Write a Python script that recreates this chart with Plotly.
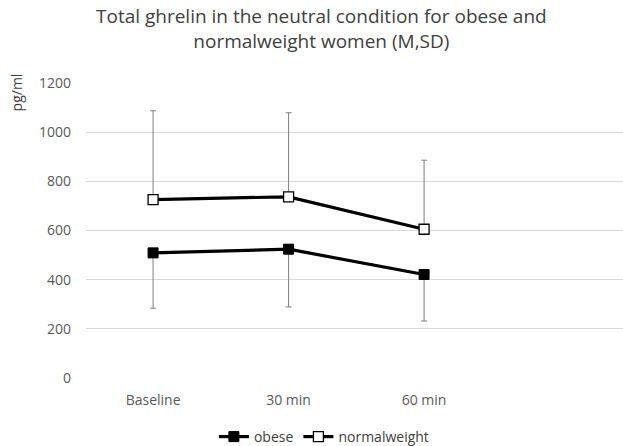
import plotly.graph_objects as go

categories = ["Baseline", "30 min", "60 min"]
obese_mean = [509, 524, 421]
obese_sd = [225, 235, 189]
normal_mean = [726, 737, 605]
normal_sd = [361, 342, 281]
y_ticks = [0, 200, 400, 600, 800, 1000, 1200]
title_text = "Total ghrelin in the neutral condition for obese and<br>normalweight women (M,SD)"

xpos = list(range(len(categories)))
font = "Open Sans"

fig = go.Figure()
fig.add_trace(go.Scatter(
    x=xpos, y=obese_mean, name="obese", mode="lines+markers",
    line=dict(color="black", width=3.2),
    marker=dict(symbol="square", size=10, color="black", line=dict(color="black", width=1)),
    error_y=dict(type="data", array=[0]*3, arrayminus=obese_sd, symmetric=False,
                 color="#7f7f7f", thickness=1, width=3),
))
fig.add_trace(go.Scatter(
    x=xpos, y=normal_mean, name="normalweight", mode="lines+markers",
    line=dict(color="black", width=3.2),
    marker=dict(symbol="square", size=10, color="white", line=dict(color="black", width=1.3)),
    error_y=dict(type="data", array=normal_sd, arrayminus=[0]*3, symmetric=False,
                 color="#7f7f7f", thickness=1, width=3),
))

fig.update_layout(
    width=623, height=446,
    margin=dict(l=86, r=0, t=83, b=68, autoexpand=False),
    paper_bgcolor="white", plot_bgcolor="white",
    font=dict(family=font, size=14, color="#595959"),
    showlegend=True,
    legend=dict(orientation="h", x=0.443, xanchor="center", y=-0.2, yanchor="middle",
                font=dict(family=font, size=14, color="#404040"),
                itemwidth=30, traceorder="normal"),
    xaxis=dict(range=[-0.495, 3.468], tickvals=xpos, ticktext=categories,
               showgrid=False, zeroline=False, showline=False, ticks="",
               ticklabelstandoff=12),
    yaxis=dict(range=[0, 1200], tickvals=y_ticks, showgrid=True, gridcolor="#d9d9d9",
               gridwidth=1, zeroline=False, showline=False, ticks="",
               ticklabelstandoff=14),
)
fig.add_annotation(text=title_text, xref="paper", yref="paper",
                   x=0.438, y=1.185, xanchor="center", yanchor="middle", showarrow=False,
                   font=dict(family=font, size=19, color="#404040"))
fig.add_annotation(text="pg/ml", textangle=-90, xref="paper", yref="paper",
                   x=-0.13, y=1.04, xanchor="center", yanchor="top", showarrow=False,
                   font=dict(family=font, size=14, color="#404040"))

fig.write_html("out.html", post_script="document.body.style.margin='0px';",
               config={"displayModeBar": False})
